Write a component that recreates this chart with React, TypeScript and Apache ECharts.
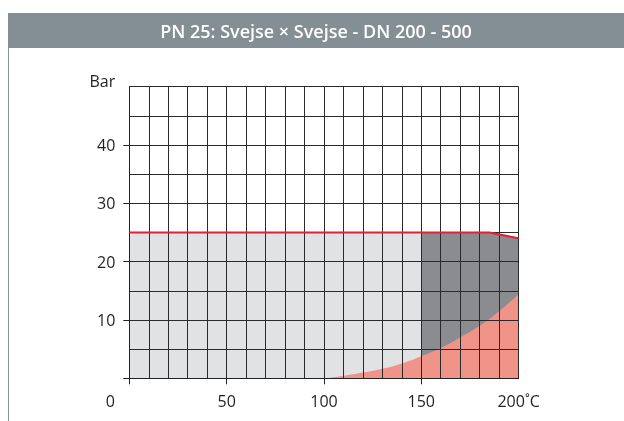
import React, { useEffect, useRef } from "react";
import * as echarts from "echarts";

const headerText = "PN 25: Svejse × Svejse - DN 200 - 500";
const yAxisName = "Bar";
const xUnit = "˚C";
const xLabelValues = [0, 50, 100, 150, 200];
const xTickValues = [0, 50, 100, 150];
const yLabelValues = [10, 20, 30, 40, 50];
const yTickValues = [0, 10, 20, 30, 40];

// Permissible pressure (red line)
const redLine: [number, number][] = [[0, 25], [185, 25], [200, 24]];
// Light grey zone
const lightZone: [number, number][] = [[0, 25], [150, 25]];
// Dark grey zone
const darkZone: [number, number][] = [[150, 25], [185, 25], [200, 24]];
// Salmon zone (curve)
const salmonZone: [number, number][] = [
  [101, 0], [110, 0.45], [120, 1.0], [130, 1.65], [140, 2.55], [150, 3.8],
  [160, 5.2], [170, 7.0], [180, 9.0], [190, 11.5], [200, 14.4],
];

export default function App() {
  const ref = useRef<HTMLDivElement>(null);
  useEffect(() => {
    if (!ref.current) return;
    const chart = echarts.init(ref.current, null, { renderer: "svg" });
    const labelFont = { fontFamily: "Open Sans", fontSize: 16, color: "#231f20" };
    const gridAxisCommon = {
      z: 3,
      axisLine: { show: false },
      axisTick: { show: false },
      axisLabel: { show: false },
      splitLine: { show: true, lineStyle: { color: "#2a2a2a", width: 1 } },
    };
    chart.setOption({
      animation: false,
      grid: { left: 129.3, right: 105.4, top: 86.7, bottom: 42.7, containLabel: false },
      graphic: [
        { type: "rect", left: 8, top: 13, shape: { width: 616, height: 35 }, style: { fill: "#848e95" }, silent: true },
        {
          type: "text", x: 316, y: 30.5,
          style: { text: headerText, fill: "#ffffff", font: "600 18px 'Open Sans'", textAlign: "center", textVerticalAlign: "middle" },
        },
        { type: "line", shape: { x1: 8.5, y1: 48, x2: 8.5, y2: 421 }, style: { stroke: "#8a949b", lineWidth: 1 } },
      ],
      xAxis: [
        {
          type: "value", min: 0, max: 200, interval: 10, z: 4,
          axisLine: { show: true, lineStyle: { color: "#222", width: 1 } },
          axisTick: { show: true, length: 6, customValues: xTickValues, lineStyle: { color: "#222" } },
          axisLabel: {
            ...labelFont, margin: 15, customValues: xLabelValues,
            formatter: (v: number) => (v === 0 ? "{z|0}" : v === 200 ? v + xUnit : String(v)),
            rich: { z: { ...labelFont, padding: [0, 38, 0, 0] } },
          },
          splitLine: { show: false },
        },
        { type: "value", min: 0, max: 200, interval: 10, position: "bottom", ...gridAxisCommon },
      ],
      yAxis: [
        {
          type: "value", min: 0, max: 50, interval: 5, z: 4,
          axisLine: { show: true, lineStyle: { color: "#222", width: 1 } },
          axisTick: { show: true, length: 6, customValues: yTickValues, lineStyle: { color: "#222" } },
          axisLabel: {
            ...labelFont, margin: 14, customValues: yLabelValues,
            formatter: (v: number) => (v === 50 ? "{b|" + yAxisName + "}" : String(v)),
            rich: { b: { ...labelFont, padding: [0, 0, 12, 0] } },
          },
          splitLine: { show: false },
        },
        { type: "value", min: 0, max: 50, interval: 5, position: "left", ...gridAxisCommon },
      ],
      series: [
        { type: "line", data: lightZone, symbol: "none", z: 1, lineStyle: { width: 0 }, areaStyle: { color: "#e1e2e4", opacity: 1 } },
        { type: "line", data: darkZone, symbol: "none", z: 1, lineStyle: { width: 0 }, areaStyle: { color: "#8b8c8f", opacity: 1 } },
        { type: "line", data: salmonZone, symbol: "none", smooth: 0.5, z: 2, lineStyle: { width: 0 }, areaStyle: { color: "#f09489", opacity: 1 } },
        { type: "line", data: redLine, symbol: "none", z: 5, lineStyle: { color: "#e31e38", width: 2 } },
      ],
    });
    return () => chart.dispose();
  }, []);
  return <div ref={ref} style={{ position: "fixed", left: 0, top: 0, width: 624, height: 421 }} />;
}
